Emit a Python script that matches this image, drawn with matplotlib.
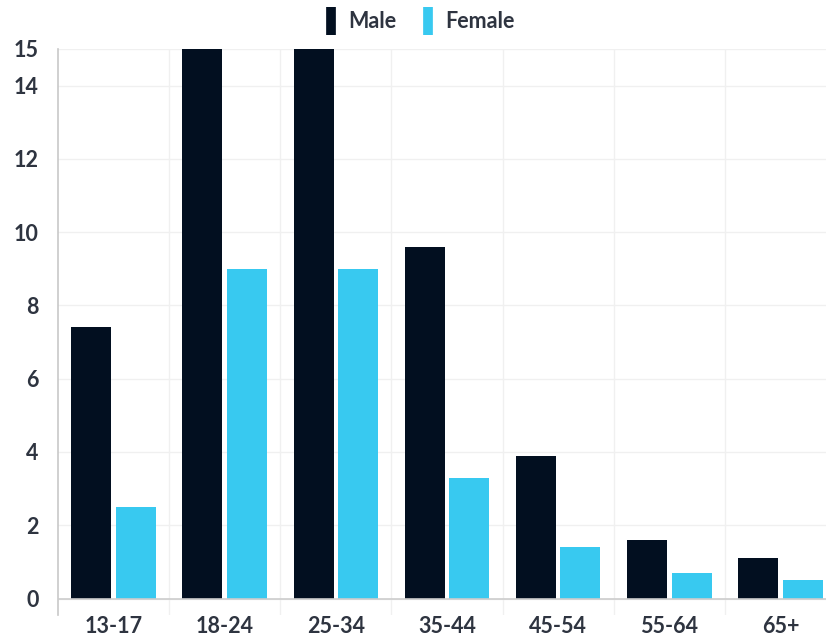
import numpy as np
import matplotlib.pyplot as plt
from matplotlib.lines import Line2D

# age groups and counts
categories = ['13-17', '18-24', '25-34', '35-44', '45-54', '55-64', '65+']
male = [7.4, 17.0, 16.5, 9.6, 3.9, 1.6, 1.1]
female = [2.5, 9.0, 9.0, 3.3, 1.4, 0.7, 0.5]
yticks = [0, 2, 4, 6, 8, 10, 12, 14, 15]

male_color = '#020f20'
female_color = '#38c9f0'
text_color = '#2e3440'

plt.rcParams['font.family'] = ['Lato', 'DejaVu Sans']

fig = plt.figure(figsize=(8.26, 6.36), dpi=100)
ax = fig.add_axes([0.0702, 0.033, 0.942, 0.890])

x = np.arange(len(categories))
w = 0.36
ax.bar(x - 0.2, male, width=w, color=male_color, zorder=3)
ax.bar(x + 0.2, female, width=w, color=female_color, zorder=3)

ax.set_xlim(-0.5, len(categories) - 0.5)
ax.set_ylim(-0.45, 15)
ax.set_yticks(yticks)
ax.set_xticks(x)
ax.set_xticklabels(categories)

# gridlines
for yv in yticks:
    ax.axhline(yv, color='#f0f0f0', lw=1, zorder=1)
for b in np.arange(0.5, len(categories), 1):
    ax.axvline(b, color='#f0f0f0', lw=1, zorder=1)
ax.axhline(0, color='#cccccc', lw=1.2, zorder=4)

for s in ['top', 'right', 'bottom']:
    ax.spines[s].set_visible(False)
ax.spines['left'].set_color('#c8c8c8')
ax.spines['left'].set_linewidth(1.2)

ax.tick_params(axis='both', length=0, labelsize=15.5, labelcolor=text_color)
ax.tick_params(axis='x', pad=1)
ax.tick_params(axis='y', pad=14)
for lbl in ax.get_xticklabels() + ax.get_yticklabels():
    lbl.set_fontweight('bold')

handles = [
    Line2D([], [], marker='|', markersize=20, markeredgewidth=7, linestyle='None', color=male_color),
    Line2D([], [], marker='|', markersize=20, markeredgewidth=7, linestyle='None', color=female_color),
]
leg = fig.legend(handles, ['Male', 'Female'], loc='center', bbox_to_anchor=(0.508, 0.966),
                 ncol=2, frameon=False, handlelength=0.6, handletextpad=0.5, columnspacing=1.2,
                 prop={'size': 15.5, 'weight': 'bold'})
for t in leg.get_texts():
    t.set_color(text_color)

fig.savefig('out.png', dpi=100)
